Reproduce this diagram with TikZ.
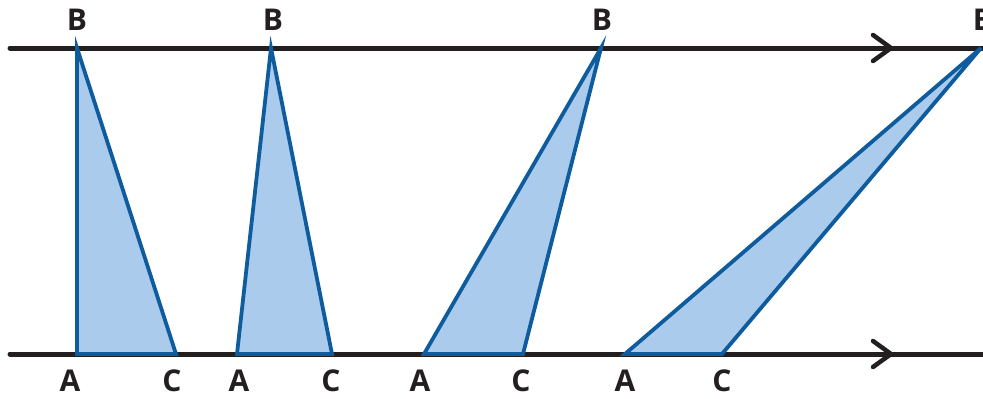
\documentclass[tikz,border=0pt]{standalone}
\usepackage{fontspec}
\setmainfont{Open Sans}
\definecolor{axis}{HTML}{231F20}
\definecolor{edge}{HTML}{0E5C9E}
\definecolor{fillb}{HTML}{AACBEB}
\begin{document}
\begin{tikzpicture}[x=1pt,y=-1pt,
  axisline/.style={draw=axis,line width=5pt,line cap=round},
  chevron/.style={draw=axis,line width=4.5pt,line cap=round,line join=round},
  tri/.style={draw=edge,fill=fillb,line width=3.8pt,line join=miter},
  lbl/.style={font=\fontsize{30}{30}\selectfont\bfseries,text=axis,inner sep=0pt}]
\useasboundingbox (0,0) rectangle (983,399);
% axes
\coordinate (t0) at (10,48); \coordinate (t1) at (990,48);
\coordinate (b0) at (10,354); \coordinate (b1) at (990,354);
\draw[axisline] (t0) -- (t1);
\draw[axisline] (b0) -- (b1);
\coordinate (ta) at (891,48); \coordinate (ba) at (891,354);
\draw[chevron] ([shift={(-18,-13)}]ta) -- (ta) -- ([shift={(-18,13)}]ta);
\draw[chevron] ([shift={(-18,-13)}]ba) -- (ba) -- ([shift={(-18,13)}]ba);
% triangles
\coordinate (A1) at (77,354);  \coordinate (B1) at (77,48);  \coordinate (C1) at (176,354);
\coordinate (A2) at (237,354); \coordinate (B2) at (271,48); \coordinate (C2) at (332,354);
\coordinate (A3) at (424,354); \coordinate (B3) at (601,48); \coordinate (C3) at (523,354);
\coordinate (A4) at (625,354); \coordinate (B4) at (981,48); \coordinate (C4) at (722,354);
\draw[tri] (A1) -- (B1) -- (C1) -- cycle;
\draw[tri] (A2) -- (B2) -- (C2) -- cycle;
\draw[tri] (A3) -- (B3) -- (C3) -- cycle;
\draw[tri] (A4) -- (B4) -- (C4) -- cycle;
% labels
\node[lbl] (lB1) at (77,20) {B};
\node[lbl] (lB2) at (273,20) {B};
\node[lbl] (lB3) at (602,20) {B};
\node[lbl] (lB4) at (983,20) {B};
\node[lbl] (lA1) at (70,381) {A};
\node[lbl] (lC1) at (172,381) {C};
\node[lbl] (lA2) at (239,381) {A};
\node[lbl] (lC2) at (331,381) {C};
\node[lbl] (lA3) at (420,381) {A};
\node[lbl] (lC3) at (521,381) {C};
\node[lbl] (lA4) at (625,381) {A};
\node[lbl] (lC4) at (722,381) {C};
\end{tikzpicture}
\end{document}
